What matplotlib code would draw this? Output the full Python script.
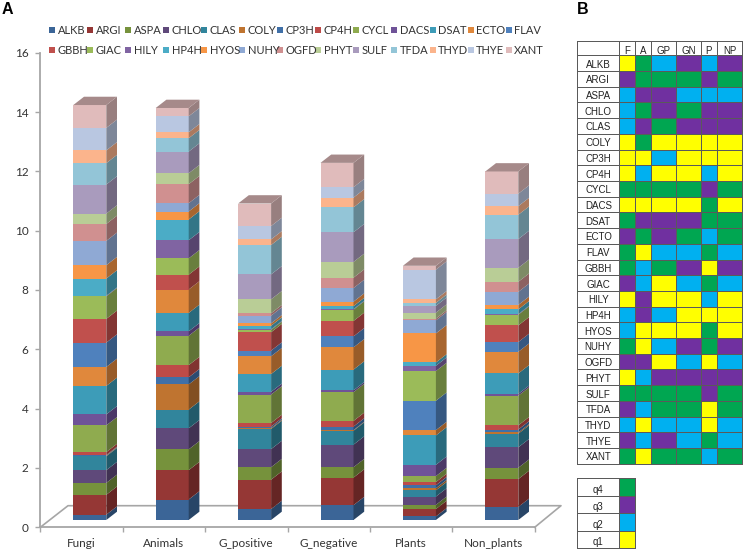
"""Stacked quasi-3D bars (panel A) and quartile table (panel B)."""

import matplotlib
matplotlib.use("Agg")
import matplotlib.pyplot as plt
import numpy as np
from matplotlib.colors import ListedColormap, to_rgb
from matplotlib.patches import Rectangle
from matplotlib.transforms import Affine2D

W, H = 744, 551

groups = ["Fungi", "Animals", "G_positive", "G_negative", "Plants", "Non_plants"]
families = ["ALKB", "ARGI", "ASPA", "CHLO", "CLAS", "COLY", "CP3H", "CP4H", "CYCL",
            "DACS", "DSAT", "ECTO", "FLAV", "GBBH", "GIAC", "HILY", "HP4H", "HYOS",
            "NUHY", "OGFD", "PHYT", "SULF", "TFDA", "THYD", "THYE", "XANT"]

colors = ["#3B6597", "#953735", "#76923C", "#5F497A", "#31859C", "#BF7430", "#4070A8",
          "#BE4B48", "#8FAB4F", "#6F5398", "#3D9CB8", "#E0883C", "#4F81BD", "#C0504D",
          "#9BBB59", "#8064A2", "#4BACC6", "#F79646", "#8FA9D4", "#D09090", "#B9CD96",
          "#A99BBD", "#93C5D7", "#FBB48C", "#B9C7E1", "#E0BBBB"]

# one list per group, same order as families
fungi = [0.18, 0.67, 0.40, 0.43, 0.47, 0.02, 0.02, 0.10, 0.90, 0.37, 0.96, 0.64, 0.82,
         0.80, 0.76, 0.02, 0.58, 0.45, 0.82, 0.57, 0.35, 0.98, 0.72, 0.43, 0.76, 0.77]
animals = [0.69, 0.99, 0.70, 0.71, 0.63, 0.85, 0.24, 0.41, 0.99, 0.15, 0.62, 0.79, 0.00,
           0.50, 0.55, 0.61, 0.70, 0.27, 0.28, 0.64, 0.37, 0.73, 0.45, 0.20, 0.54, 0.28]
g_positive = [0.37, 0.99, 0.42, 0.61, 0.68, 0.03, 0.05, 0.12, 0.96, 0.09, 0.60, 0.60, 0.19,
              0.62, 0.08, 0.02, 0.12, 0.08, 0.26, 0.08, 0.47, 0.84, 0.99, 0.19, 0.45, 0.76]
g_negative = [0.50, 0.93, 0.35, 0.76, 0.47, 0.02, 0.12, 0.19, 0.97, 0.06, 0.70, 0.75, 0.37,
              0.52, 0.38, 0.02, 0.10, 0.15, 0.46, 0.35, 0.53, 1.00, 0.84, 0.33, 0.35, 0.82]
plants = [0.12, 0.25, 0.14, 0.28, 0.21, 0.07, 0.10, 0.11, 0.20, 0.38, 0.99, 0.18, 0.99,
          0.00, 1.00, 0.18, 0.11, 0.98, 0.44, 0.06, 0.20, 0.23, 0.10, 0.12, 1.00, 0.13]
non_plants = [0.44, 0.94, 0.38, 0.69, 0.46, 0.04, 0.10, 0.14, 1.00, 0.06, 0.69, 0.73, 0.33,
              0.56, 0.36, 0.02, 0.16, 0.15, 0.44, 0.34, 0.47, 0.97, 0.82, 0.29, 0.42, 0.75]

# quartile per family: F, A, GP, GN, P, NP
quartile_cols = ["F", "A", "GP", "GN", "P", "NP"]
quartiles = [
    [1, 4, 2, 3, 2, 3], [3, 4, 4, 4, 3, 4], [2, 3, 3, 2, 2, 2], [2, 4, 3, 4, 3, 3],
    [2, 3, 4, 3, 3, 3], [1, 4, 1, 1, 1, 1], [1, 1, 2, 1, 1, 1], [1, 2, 1, 1, 2, 1],
    [4, 4, 4, 4, 3, 4], [1, 1, 1, 1, 4, 1], [4, 3, 3, 3, 4, 4], [3, 4, 3, 4, 2, 4],
    [4, 1, 2, 2, 4, 2], [4, 2, 4, 3, 1, 3], [3, 2, 1, 2, 4, 2], [1, 3, 1, 1, 2, 1],
    [2, 3, 2, 1, 1, 1], [2, 1, 1, 1, 4, 1], [4, 1, 2, 3, 4, 3], [3, 3, 1, 2, 1, 2],
    [1, 2, 3, 3, 3, 3], [4, 4, 4, 4, 3, 4], [3, 2, 4, 4, 1, 4], [2, 1, 2, 2, 1, 2],
    [3, 2, 3, 2, 4, 2], [4, 1, 4, 4, 2, 4],
]
key_labels = ["q4", "q3", "q2", "q1"]
key_values = [4, 3, 2, 1]
quartile_colors = ["#FFFFFF", "#FFFF00", "#00B0F0", "#7030A0", "#00A651"]

CHART_FONT = "Lato"
TABLE_FONT = "Liberation Sans"
AXIS_GREY = "#A6A6A6"
GRID_GREY = "#5A5A5A"


def shade(color, factor):
    return tuple(c * factor for c in to_rgb(color))


fig = plt.figure(figsize=(W / 100, H / 100), dpi=100, facecolor="white")

# Panel A axes, placed so that 0..16 runs along the front edge of the floor
left, right, bottom, top = 40.3, 534.7, 527.3, 52.7
ax = fig.add_axes([left / W, 1 - bottom / H, (right - left) / W, (bottom - top) / H])
ax.patch.set_alpha(0)
ax.set_xlim(-0.5, len(groups) - 0.5)
ax.set_ylim(0, 16)

px_x = len(groups) / (right - left)
px_y = 16 / (bottom - top)
bar_w = 33 * px_x
depth_x, depth_y = 10.7 * px_x, 8.3 * px_y
# bars stand back from the axis plane by a fixed pixel offset
bar_tf = ax.transData + Affine2D().translate(8.3, 7.3)

values = np.array([fungi, animals, g_positive, g_negative, plants, non_plants])
for i in range(len(groups)):
    base = 0.0
    x_right = i + bar_w / 2
    for j, fam in enumerate(families):
        v = values[i, j]
        ax.bar(i, v, width=bar_w, bottom=base, color=colors[j], transform=bar_tf,
               linewidth=0, zorder=3)
        ax.fill([x_right, x_right + depth_x, x_right + depth_x, x_right],
                [base, base + depth_y, base + v + depth_y, base + v],
                color=shade(colors[j], 0.68), linewidth=0, transform=bar_tf, zorder=3)
        base += v
    # top face takes its tone from the last segment
    ax.fill([i - bar_w / 2, x_right, x_right + depth_x, i - bar_w / 2 + depth_x],
            [base, base, base + depth_y, base + depth_y],
            color=shade(colors[-1], 0.74), linewidth=0, transform=bar_tf, zorder=3)

ax.set_xlim(-0.5, len(groups) - 0.5)
ax.set_ylim(0, 16)
ax.set_yticks(range(0, 17, 2))
ax.set_xticks(range(len(groups)), groups)
ax.set_xticks(np.arange(-0.5, len(groups)), minor=True)
ax.tick_params(axis="x", which="major", length=0, pad=7.5, labelsize=8.5, labelcolor="#333333")
ax.tick_params(axis="x", which="minor", length=3.5, width=1, color=AXIS_GREY)
ax.tick_params(axis="y", length=3.5, width=1, color=AXIS_GREY, pad=5, labelsize=8.5,
               labelcolor="#333333")
for lab in ax.get_xticklabels() + ax.get_yticklabels():
    lab.set_family(CHART_FONT)
for side in ["top", "right"]:
    ax.spines[side].set_visible(False)
for side in ["left", "bottom"]:
    ax.spines[side].set_color(AXIS_GREY)
    ax.spines[side].set_linewidth(1.3)

# Overlays in pixel coordinates: floor behind the bars, legend and panel B in front
ov = fig.add_axes([0, 0, 1, 1], zorder=-1)
ov.set_xlim(0, W)
ov.set_ylim(H, 0)
ov.axis("off")
top_ov = fig.add_axes([0, 0, 1, 1], zorder=5)
top_ov.axis("off")
top_ov.patch.set_alpha(0)

ov.plot([left, 68, 561, right], [bottom, 505.7, 505.7, bottom], color=AXIS_GREY, lw=1.2)

for k, fam in enumerate(families):
    row, col = divmod(k, 13)
    sx = 49 + 38.05 * col
    sy = 30 + 20 * row
    top_ov.add_patch(Rectangle((sx, sy - 3), 6, 6, color=colors[k], linewidth=0))
    top_ov.text(sx + 8.5, sy, fam, fontsize=8, family=CHART_FONT, color="#333333",
                va="center", ha="left")

top_ov.text(2, 10, "A", fontsize=11.5, fontweight="bold", family=TABLE_FONT,
            va="center", ha="left")
top_ov.text(577, 9, "B", fontsize=11.5, fontweight="bold", family=TABLE_FONT,
            va="center", ha="left")

# Panel B table
cmap = ListedColormap(quartile_colors)
col_edges = [577.3, 619.3, 635, 651.3, 676, 700.7, 717, 742]
row_edges = [40.7] + list(np.linspace(55.3, 463.7, len(families) + 1))
grid = np.zeros((len(families) + 1, len(quartile_cols) + 1), dtype=int)
grid[1:, 1:] = quartiles
top_ov.pcolormesh(col_edges, row_edges, grid, cmap=cmap, vmin=-0.5, vmax=4.5,
                  edgecolors=GRID_GREY, linewidth=0.5)

for c, name in enumerate(quartile_cols):
    top_ov.text((col_edges[c + 1] + col_edges[c + 2]) / 2, 50.5, name, fontsize=7,
                family=TABLE_FONT, color="#222222", ha="center", va="center")
for r, fam in enumerate(families):
    top_ov.text((col_edges[0] + col_edges[1]) / 2, (row_edges[r + 1] + row_edges[r + 2]) / 2 + 1.5,
                fam, fontsize=7, family=TABLE_FONT, color="#222222", ha="center", va="center")

key_cols = [577.3, 619.3, 635]
key_rows = np.linspace(478.3, 548.3, len(key_labels) + 1)
key_grid = np.zeros((len(key_labels), 2), dtype=int)
key_grid[:, 1] = key_values
top_ov.pcolormesh(key_cols, key_rows, key_grid, cmap=cmap, vmin=-0.5, vmax=4.5,
                  edgecolors=GRID_GREY, linewidth=0.5)
for r, name in enumerate(key_labels):
    top_ov.text((key_cols[0] + key_cols[1]) / 2, (key_rows[r] + key_rows[r + 1]) / 2 + 2.5, name,
                fontsize=7, family=TABLE_FONT, color="#222222", ha="center", va="center")

top_ov.set_xlim(0, W)
top_ov.set_ylim(H, 0)

fig.savefig("out.png", dpi=100)
